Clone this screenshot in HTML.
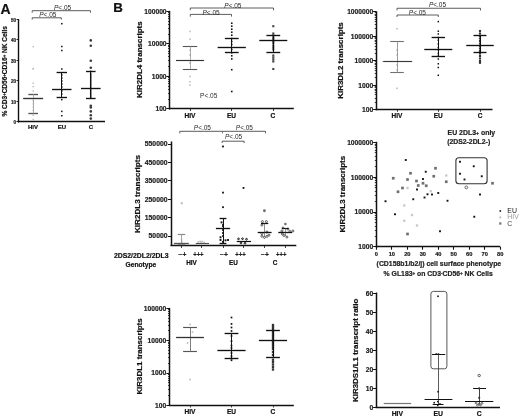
<!DOCTYPE html>
<html><head><meta charset="utf-8"><style>
html,body{margin:0;padding:0;background:#fff;}
svg{display:block;font-family:"Liberation Sans", sans-serif;will-change:transform;}
</style></head><body>
<svg width="520" height="417" viewBox="0 0 520 417">
<rect width="520" height="417" fill="#fff"/>
<text x="0.50" y="13.80" font-size="14.0" font-weight="bold" fill="#111" stroke="#111" stroke-width="0.2" text-anchor="start">A</text>
<line x1="18.50" y1="19.00" x2="18.50" y2="122.50" stroke="#111" stroke-width="1.4"/>
<line x1="17.80" y1="121.50" x2="105.00" y2="121.50" stroke="#111" stroke-width="1.4"/>
<line x1="16.50" y1="121.50" x2="18.50" y2="121.50" stroke="#111" stroke-width="0.9"/>
<text x="16.00" y="124.00" font-size="4.6" font-weight="bold" fill="#222" stroke="#222" stroke-width="0.2" text-anchor="end">0</text>
<line x1="16.50" y1="101.50" x2="18.50" y2="101.50" stroke="#111" stroke-width="0.9"/>
<text x="16.00" y="103.50" font-size="4.6" font-weight="bold" fill="#222" stroke="#222" stroke-width="0.2" text-anchor="end">10</text>
<line x1="16.50" y1="80.50" x2="18.50" y2="80.50" stroke="#111" stroke-width="0.9"/>
<text x="16.00" y="83.00" font-size="4.6" font-weight="bold" fill="#222" stroke="#222" stroke-width="0.2" text-anchor="end">20</text>
<line x1="16.50" y1="60.50" x2="18.50" y2="60.50" stroke="#111" stroke-width="0.9"/>
<text x="16.00" y="62.50" font-size="4.6" font-weight="bold" fill="#222" stroke="#222" stroke-width="0.2" text-anchor="end">30</text>
<line x1="16.50" y1="39.50" x2="18.50" y2="39.50" stroke="#111" stroke-width="0.9"/>
<text x="16.00" y="42.00" font-size="4.6" font-weight="bold" fill="#222" stroke="#222" stroke-width="0.2" text-anchor="end">40</text>
<line x1="16.50" y1="19.50" x2="18.50" y2="19.50" stroke="#111" stroke-width="0.9"/>
<text x="16.00" y="21.50" font-size="4.6" font-weight="bold" fill="#222" stroke="#222" stroke-width="0.2" text-anchor="end">50</text>
<text x="7.20" y="116.60" font-size="7.0" font-weight="bold" fill="#111" stroke="#111" stroke-width="0.2" text-anchor="start" transform="rotate(-90 7.20 116.60)" textLength="90.5" lengthAdjust="spacingAndGlyphs">% CD3<tspan dy="-1.6" font-size="4.5">+</tspan><tspan dy="1.6">CD56</tspan><tspan dy="-1.6" font-size="4.5">+</tspan><tspan dy="1.6">CD16</tspan><tspan dy="-1.6" font-size="4.5">+</tspan><tspan dy="1.6"> NK Cells</tspan></text>
<text x="33.00" y="128.80" font-size="6.0" font-weight="bold" fill="#111" stroke="#111" stroke-width="0.2" text-anchor="middle">HIV</text>
<text x="62.00" y="128.80" font-size="6.0" font-weight="bold" fill="#111" stroke="#111" stroke-width="0.2" text-anchor="middle">EU</text>
<text x="91.00" y="128.80" font-size="6.0" font-weight="bold" fill="#111" stroke="#111" stroke-width="0.2" text-anchor="middle">C</text>
<path d="M32.20 12.70 V10.70 H90.50 V12.70" fill="none" stroke="#4a4a4a" stroke-width="0.9"/>
<path d="M32.20 19.60 V17.80 H61.30 V19.60" fill="none" stroke="#4a4a4a" stroke-width="0.9"/>
<text x="54.00" y="10.10" font-size="6.5" font-weight="normal" fill="#2a2a2a" text-anchor="start"><tspan font-style="italic">P</tspan>&lt;.05</text>
<text x="39.20" y="16.80" font-size="6.5" font-weight="normal" fill="#2a2a2a" text-anchor="start"><tspan font-style="italic">P</tspan>&lt;.05</text>
<rect x="32.50" y="46.00" width="1.40" height="1.40" fill="#b8b8b8"/>
<rect x="32.50" y="68.30" width="1.40" height="1.40" fill="#b8b8b8"/>
<rect x="32.50" y="67.80" width="1.40" height="1.40" fill="#b8b8b8"/>
<rect x="32.50" y="82.50" width="1.40" height="1.40" fill="#b8b8b8"/>
<rect x="32.50" y="85.90" width="1.40" height="1.40" fill="#b8b8b8"/>
<rect x="32.50" y="90.30" width="1.40" height="1.40" fill="#b8b8b8"/>
<rect x="32.50" y="100.30" width="1.40" height="1.40" fill="#b8b8b8"/>
<rect x="32.50" y="103.30" width="1.40" height="1.40" fill="#b8b8b8"/>
<rect x="32.50" y="106.30" width="1.40" height="1.40" fill="#b8b8b8"/>
<rect x="32.50" y="109.30" width="1.40" height="1.40" fill="#b8b8b8"/>
<rect x="32.50" y="114.50" width="1.40" height="1.40" fill="#b8b8b8"/>
<rect x="32.50" y="118.80" width="1.40" height="1.40" fill="#b8b8b8"/>
<line x1="23.30" y1="98.50" x2="43.10" y2="98.50" stroke="#555" stroke-width="1.35"/>
<line x1="28.40" y1="94.50" x2="38.00" y2="94.50" stroke="#555" stroke-width="1.35"/>
<line x1="28.40" y1="113.50" x2="38.00" y2="113.50" stroke="#555" stroke-width="1.35"/>
<line x1="33.50" y1="94.40" x2="33.50" y2="113.40" stroke="#aaa" stroke-width="1.0125000000000002"/>
<line x1="23.30" y1="98.50" x2="43.10" y2="98.50" stroke="#333" stroke-width="1.1"/>
<rect x="61.05" y="22.95" width="1.50" height="1.50" fill="#111"/>
<rect x="61.05" y="45.75" width="1.50" height="1.50" fill="#111"/>
<rect x="61.05" y="49.75" width="1.50" height="1.50" fill="#111"/>
<rect x="61.05" y="68.25" width="1.50" height="1.50" fill="#111"/>
<rect x="61.05" y="74.25" width="1.50" height="1.50" fill="#111"/>
<rect x="61.05" y="77.25" width="1.50" height="1.50" fill="#111"/>
<rect x="61.05" y="80.25" width="1.50" height="1.50" fill="#111"/>
<rect x="61.05" y="83.25" width="1.50" height="1.50" fill="#111"/>
<rect x="61.05" y="86.25" width="1.50" height="1.50" fill="#111"/>
<rect x="61.05" y="90.25" width="1.50" height="1.50" fill="#111"/>
<rect x="61.05" y="93.25" width="1.50" height="1.50" fill="#111"/>
<rect x="61.05" y="98.85" width="1.50" height="1.50" fill="#111"/>
<rect x="61.05" y="110.65" width="1.50" height="1.50" fill="#111"/>
<rect x="61.05" y="114.95" width="1.50" height="1.50" fill="#111"/>
<line x1="52.10" y1="89.50" x2="71.50" y2="89.50" stroke="#111" stroke-width="1.35"/>
<line x1="56.60" y1="72.50" x2="67.00" y2="72.50" stroke="#111" stroke-width="1.35"/>
<line x1="56.60" y1="97.50" x2="67.00" y2="97.50" stroke="#111" stroke-width="1.35"/>
<line x1="61.50" y1="72.80" x2="61.50" y2="97.40" stroke="#111" stroke-width="1.0125000000000002"/>
<circle cx="90.80" cy="40.40" r="1.30" fill="#3a3a3a"/>
<circle cx="90.80" cy="45.80" r="1.30" fill="#3a3a3a"/>
<circle cx="90.80" cy="60.80" r="1.30" fill="#3a3a3a"/>
<circle cx="90.80" cy="67.80" r="1.30" fill="#3a3a3a"/>
<circle cx="90.80" cy="71.50" r="1.00" fill="#3a3a3a"/>
<circle cx="90.80" cy="74.00" r="1.00" fill="#3a3a3a"/>
<circle cx="90.80" cy="76.00" r="1.00" fill="#3a3a3a"/>
<circle cx="90.80" cy="78.00" r="1.00" fill="#3a3a3a"/>
<circle cx="90.80" cy="80.00" r="1.00" fill="#3a3a3a"/>
<circle cx="90.80" cy="82.00" r="1.00" fill="#3a3a3a"/>
<circle cx="90.80" cy="84.00" r="1.00" fill="#3a3a3a"/>
<circle cx="90.80" cy="86.00" r="1.00" fill="#3a3a3a"/>
<circle cx="90.80" cy="88.00" r="1.00" fill="#3a3a3a"/>
<circle cx="90.80" cy="90.00" r="1.00" fill="#3a3a3a"/>
<circle cx="90.80" cy="92.00" r="1.00" fill="#3a3a3a"/>
<circle cx="90.80" cy="94.00" r="1.00" fill="#3a3a3a"/>
<circle cx="90.80" cy="96.00" r="1.00" fill="#3a3a3a"/>
<circle cx="90.80" cy="98.00" r="1.00" fill="#3a3a3a"/>
<circle cx="90.80" cy="105.70" r="1.30" fill="#3a3a3a"/>
<circle cx="90.80" cy="107.40" r="1.30" fill="#3a3a3a"/>
<circle cx="90.80" cy="111.40" r="1.30" fill="#3a3a3a"/>
<circle cx="90.80" cy="115.20" r="1.30" fill="#3a3a3a"/>
<circle cx="90.80" cy="118.60" r="1.30" fill="#3a3a3a"/>
<line x1="81.00" y1="88.50" x2="100.60" y2="88.50" stroke="#111" stroke-width="1.35"/>
<line x1="86.00" y1="71.50" x2="95.60" y2="71.50" stroke="#111" stroke-width="1.35"/>
<line x1="86.00" y1="98.50" x2="95.60" y2="98.50" stroke="#111" stroke-width="1.35"/>
<line x1="90.50" y1="71.60" x2="90.50" y2="98.20" stroke="#111" stroke-width="1.0125000000000002"/>
<text x="113.30" y="12.20" font-size="13.3" font-weight="bold" fill="#111" stroke="#111" stroke-width="0.2" text-anchor="start">B</text>
<line x1="169.50" y1="10.85" x2="169.50" y2="109.50" stroke="#111" stroke-width="1.5"/>
<line x1="168.90" y1="108.50" x2="293.80" y2="108.50" stroke="#111" stroke-width="1.5"/>
<line x1="166.40" y1="11.50" x2="169.60" y2="11.50" stroke="#111" stroke-width="1.0"/>
<text x="166.60" y="13.65" font-size="6.7" font-weight="bold" fill="#222" stroke="#222" stroke-width="0.2" text-anchor="end">100000</text>
<line x1="168.00" y1="34.50" x2="169.60" y2="34.50" stroke="#111" stroke-width="0.8"/>
<line x1="168.00" y1="28.50" x2="169.60" y2="28.50" stroke="#111" stroke-width="0.8"/>
<line x1="168.00" y1="24.50" x2="169.60" y2="24.50" stroke="#111" stroke-width="0.8"/>
<line x1="168.00" y1="21.50" x2="169.60" y2="21.50" stroke="#111" stroke-width="0.8"/>
<line x1="168.00" y1="18.50" x2="169.60" y2="18.50" stroke="#111" stroke-width="0.8"/>
<line x1="168.00" y1="16.50" x2="169.60" y2="16.50" stroke="#111" stroke-width="0.8"/>
<line x1="168.00" y1="14.50" x2="169.60" y2="14.50" stroke="#111" stroke-width="0.8"/>
<line x1="168.00" y1="12.50" x2="169.60" y2="12.50" stroke="#111" stroke-width="0.8"/>
<line x1="166.40" y1="43.50" x2="169.60" y2="43.50" stroke="#111" stroke-width="1.0"/>
<text x="166.60" y="46.15" font-size="6.7" font-weight="bold" fill="#222" stroke="#222" stroke-width="0.2" text-anchor="end">10000</text>
<line x1="168.00" y1="66.50" x2="169.60" y2="66.50" stroke="#111" stroke-width="0.8"/>
<line x1="168.00" y1="60.50" x2="169.60" y2="60.50" stroke="#111" stroke-width="0.8"/>
<line x1="168.00" y1="56.50" x2="169.60" y2="56.50" stroke="#111" stroke-width="0.8"/>
<line x1="168.00" y1="53.50" x2="169.60" y2="53.50" stroke="#111" stroke-width="0.8"/>
<line x1="168.00" y1="51.50" x2="169.60" y2="51.50" stroke="#111" stroke-width="0.8"/>
<line x1="168.00" y1="48.50" x2="169.60" y2="48.50" stroke="#111" stroke-width="0.8"/>
<line x1="168.00" y1="46.50" x2="169.60" y2="46.50" stroke="#111" stroke-width="0.8"/>
<line x1="168.00" y1="45.50" x2="169.60" y2="45.50" stroke="#111" stroke-width="0.8"/>
<line x1="166.40" y1="76.50" x2="169.60" y2="76.50" stroke="#111" stroke-width="1.0"/>
<text x="166.60" y="78.65" font-size="6.7" font-weight="bold" fill="#222" stroke="#222" stroke-width="0.2" text-anchor="end">1000</text>
<line x1="168.00" y1="99.50" x2="169.60" y2="99.50" stroke="#111" stroke-width="0.8"/>
<line x1="168.00" y1="93.50" x2="169.60" y2="93.50" stroke="#111" stroke-width="0.8"/>
<line x1="168.00" y1="89.50" x2="169.60" y2="89.50" stroke="#111" stroke-width="0.8"/>
<line x1="168.00" y1="86.50" x2="169.60" y2="86.50" stroke="#111" stroke-width="0.8"/>
<line x1="168.00" y1="83.50" x2="169.60" y2="83.50" stroke="#111" stroke-width="0.8"/>
<line x1="168.00" y1="81.50" x2="169.60" y2="81.50" stroke="#111" stroke-width="0.8"/>
<line x1="168.00" y1="79.50" x2="169.60" y2="79.50" stroke="#111" stroke-width="0.8"/>
<line x1="168.00" y1="77.50" x2="169.60" y2="77.50" stroke="#111" stroke-width="0.8"/>
<line x1="166.40" y1="108.50" x2="169.60" y2="108.50" stroke="#111" stroke-width="1.0"/>
<text x="166.60" y="111.15" font-size="6.7" font-weight="bold" fill="#222" stroke="#222" stroke-width="0.2" text-anchor="end">100</text>
<text x="142.10" y="98.00" font-size="7.8" font-weight="bold" fill="#111" stroke="#111" stroke-width="0.2" text-anchor="start" transform="rotate(-90 142.10 98.00)" textLength="76.7" lengthAdjust="spacingAndGlyphs">KIR2DL4 transcripts</text>
<text x="190.00" y="117.80" font-size="6.6" font-weight="bold" fill="#111" stroke="#111" stroke-width="0.2" text-anchor="middle">HIV</text>
<line x1="190.50" y1="108.90" x2="190.50" y2="111.00" stroke="#111" stroke-width="0.8"/>
<text x="231.50" y="117.80" font-size="6.6" font-weight="bold" fill="#111" stroke="#111" stroke-width="0.2" text-anchor="middle">EU</text>
<line x1="231.50" y1="108.90" x2="231.50" y2="111.00" stroke="#111" stroke-width="0.8"/>
<text x="273.00" y="117.80" font-size="6.6" font-weight="bold" fill="#111" stroke="#111" stroke-width="0.2" text-anchor="middle">C</text>
<line x1="273.50" y1="108.90" x2="273.50" y2="111.00" stroke="#111" stroke-width="0.8"/>
<path d="M190.30 10.20 V8.00 H273.50 V10.20" fill="none" stroke="#4a4a4a" stroke-width="0.9"/>
<path d="M190.30 16.60 V14.40 H231.50 V16.60" fill="none" stroke="#4a4a4a" stroke-width="0.9"/>
<text x="224.30" y="7.80" font-size="6.5" font-weight="normal" fill="#2a2a2a" text-anchor="start"><tspan font-style="italic">P</tspan>&lt;.05</text>
<text x="202.50" y="14.70" font-size="6.5" font-weight="normal" fill="#2a2a2a" text-anchor="start"><tspan font-style="italic">P</tspan>&lt;.05</text>
<text x="200.10" y="97.90" font-size="6.5" font-weight="normal" fill="#2a2a2a" text-anchor="start">P&lt;.05</text>
<rect x="189.25" y="30.75" width="1.50" height="1.50" fill="#b8b8b8"/>
<rect x="189.25" y="38.45" width="1.50" height="1.50" fill="#b8b8b8"/>
<rect x="189.25" y="49.25" width="1.50" height="1.50" fill="#b8b8b8"/>
<rect x="189.25" y="54.25" width="1.50" height="1.50" fill="#b8b8b8"/>
<rect x="189.25" y="62.25" width="1.50" height="1.50" fill="#b8b8b8"/>
<rect x="189.25" y="75.75" width="1.50" height="1.50" fill="#b8b8b8"/>
<rect x="189.25" y="80.95" width="1.50" height="1.50" fill="#b8b8b8"/>
<rect x="189.25" y="84.35" width="1.50" height="1.50" fill="#b8b8b8"/>
<line x1="176.00" y1="60.50" x2="204.00" y2="60.50" stroke="#555" stroke-width="1.08"/>
<line x1="182.80" y1="46.50" x2="197.20" y2="46.50" stroke="#555" stroke-width="1.08"/>
<line x1="182.80" y1="69.50" x2="197.20" y2="69.50" stroke="#555" stroke-width="1.08"/>
<line x1="190.50" y1="46.30" x2="190.50" y2="69.30" stroke="#999" stroke-width="0.81"/>
<line x1="176.10" y1="60.50" x2="204.10" y2="60.50" stroke="#333" stroke-width="1.1"/>
<rect x="230.95" y="22.40" width="1.60" height="1.60" fill="#111"/>
<rect x="230.95" y="25.40" width="1.60" height="1.60" fill="#111"/>
<rect x="230.95" y="28.40" width="1.60" height="1.60" fill="#111"/>
<rect x="230.95" y="31.40" width="1.60" height="1.60" fill="#111"/>
<rect x="230.95" y="34.40" width="1.60" height="1.60" fill="#111"/>
<rect x="230.95" y="37.70" width="1.60" height="1.60" fill="#111"/>
<rect x="230.95" y="40.70" width="1.60" height="1.60" fill="#111"/>
<rect x="230.95" y="43.70" width="1.60" height="1.60" fill="#111"/>
<rect x="230.95" y="48.70" width="1.60" height="1.60" fill="#111"/>
<rect x="230.95" y="52.00" width="1.60" height="1.60" fill="#111"/>
<rect x="230.95" y="55.00" width="1.60" height="1.60" fill="#111"/>
<rect x="230.95" y="58.10" width="1.60" height="1.60" fill="#111"/>
<rect x="230.95" y="68.90" width="1.60" height="1.60" fill="#111"/>
<rect x="230.95" y="90.70" width="1.60" height="1.60" fill="#111"/>
<line x1="217.65" y1="47.50" x2="245.85" y2="47.50" stroke="#111" stroke-width="1.35"/>
<line x1="224.85" y1="38.50" x2="238.65" y2="38.50" stroke="#111" stroke-width="1.35"/>
<line x1="224.85" y1="52.50" x2="238.65" y2="52.50" stroke="#111" stroke-width="1.35"/>
<line x1="231.50" y1="38.25" x2="231.50" y2="52.00" stroke="#111" stroke-width="1.0125000000000002"/>
<rect x="272.25" y="25.15" width="2.10" height="2.10" fill="#444"/>
<rect x="272.25" y="32.45" width="2.10" height="2.10" fill="#444"/>
<rect x="272.25" y="34.45" width="2.10" height="2.10" fill="#444"/>
<rect x="272.25" y="36.45" width="2.10" height="2.10" fill="#444"/>
<rect x="272.25" y="37.95" width="2.10" height="2.10" fill="#444"/>
<rect x="272.25" y="39.95" width="2.10" height="2.10" fill="#444"/>
<rect x="272.25" y="41.95" width="2.10" height="2.10" fill="#444"/>
<rect x="272.25" y="44.45" width="2.10" height="2.10" fill="#444"/>
<rect x="272.25" y="46.45" width="2.10" height="2.10" fill="#444"/>
<rect x="272.25" y="48.45" width="2.10" height="2.10" fill="#444"/>
<rect x="272.25" y="54.45" width="2.10" height="2.10" fill="#444"/>
<rect x="272.25" y="56.45" width="2.10" height="2.10" fill="#444"/>
<rect x="272.25" y="58.45" width="2.10" height="2.10" fill="#444"/>
<rect x="272.25" y="60.45" width="2.10" height="2.10" fill="#444"/>
<rect x="272.25" y="67.95" width="2.10" height="2.10" fill="#444"/>
<line x1="259.30" y1="40.50" x2="287.30" y2="40.50" stroke="#111" stroke-width="1.35"/>
<line x1="266.40" y1="35.50" x2="280.20" y2="35.50" stroke="#111" stroke-width="1.35"/>
<line x1="266.40" y1="52.50" x2="280.20" y2="52.50" stroke="#111" stroke-width="1.35"/>
<line x1="273.50" y1="35.50" x2="273.50" y2="52.50" stroke="#111" stroke-width="1.0125000000000002"/>
<line x1="376.50" y1="11.30" x2="376.50" y2="110.30" stroke="#111" stroke-width="1.5"/>
<line x1="375.60" y1="109.50" x2="492.50" y2="109.50" stroke="#111" stroke-width="1.5"/>
<line x1="373.10" y1="11.50" x2="376.30" y2="11.50" stroke="#111" stroke-width="1.0"/>
<text x="373.20" y="14.10" font-size="6.7" font-weight="bold" fill="#222" stroke="#222" stroke-width="0.2" text-anchor="end">1000000</text>
<line x1="374.70" y1="28.50" x2="376.30" y2="28.50" stroke="#111" stroke-width="0.8"/>
<line x1="374.70" y1="24.50" x2="376.30" y2="24.50" stroke="#111" stroke-width="0.8"/>
<line x1="374.70" y1="21.50" x2="376.30" y2="21.50" stroke="#111" stroke-width="0.8"/>
<line x1="374.70" y1="19.50" x2="376.30" y2="19.50" stroke="#111" stroke-width="0.8"/>
<line x1="374.70" y1="17.50" x2="376.30" y2="17.50" stroke="#111" stroke-width="0.8"/>
<line x1="374.70" y1="15.50" x2="376.30" y2="15.50" stroke="#111" stroke-width="0.8"/>
<line x1="374.70" y1="14.50" x2="376.30" y2="14.50" stroke="#111" stroke-width="0.8"/>
<line x1="374.70" y1="12.50" x2="376.30" y2="12.50" stroke="#111" stroke-width="0.8"/>
<line x1="373.10" y1="36.50" x2="376.30" y2="36.50" stroke="#111" stroke-width="1.0"/>
<text x="373.20" y="38.57" font-size="6.7" font-weight="bold" fill="#222" stroke="#222" stroke-width="0.2" text-anchor="end">100000</text>
<line x1="374.70" y1="53.50" x2="376.30" y2="53.50" stroke="#111" stroke-width="0.8"/>
<line x1="374.70" y1="49.50" x2="376.30" y2="49.50" stroke="#111" stroke-width="0.8"/>
<line x1="374.70" y1="46.50" x2="376.30" y2="46.50" stroke="#111" stroke-width="0.8"/>
<line x1="374.70" y1="43.50" x2="376.30" y2="43.50" stroke="#111" stroke-width="0.8"/>
<line x1="374.70" y1="41.50" x2="376.30" y2="41.50" stroke="#111" stroke-width="0.8"/>
<line x1="374.70" y1="40.50" x2="376.30" y2="40.50" stroke="#111" stroke-width="0.8"/>
<line x1="374.70" y1="38.50" x2="376.30" y2="38.50" stroke="#111" stroke-width="0.8"/>
<line x1="374.70" y1="37.50" x2="376.30" y2="37.50" stroke="#111" stroke-width="0.8"/>
<line x1="373.10" y1="60.50" x2="376.30" y2="60.50" stroke="#111" stroke-width="1.0"/>
<text x="373.20" y="63.04" font-size="6.7" font-weight="bold" fill="#222" stroke="#222" stroke-width="0.2" text-anchor="end">10000</text>
<line x1="374.70" y1="77.50" x2="376.30" y2="77.50" stroke="#111" stroke-width="0.8"/>
<line x1="374.70" y1="73.50" x2="376.30" y2="73.50" stroke="#111" stroke-width="0.8"/>
<line x1="374.70" y1="70.50" x2="376.30" y2="70.50" stroke="#111" stroke-width="0.8"/>
<line x1="374.70" y1="68.50" x2="376.30" y2="68.50" stroke="#111" stroke-width="0.8"/>
<line x1="374.70" y1="66.50" x2="376.30" y2="66.50" stroke="#111" stroke-width="0.8"/>
<line x1="374.70" y1="64.50" x2="376.30" y2="64.50" stroke="#111" stroke-width="0.8"/>
<line x1="374.70" y1="63.50" x2="376.30" y2="63.50" stroke="#111" stroke-width="0.8"/>
<line x1="374.70" y1="61.50" x2="376.30" y2="61.50" stroke="#111" stroke-width="0.8"/>
<line x1="373.10" y1="85.50" x2="376.30" y2="85.50" stroke="#111" stroke-width="1.0"/>
<text x="373.20" y="87.51" font-size="6.7" font-weight="bold" fill="#222" stroke="#222" stroke-width="0.2" text-anchor="end">1000</text>
<line x1="374.70" y1="102.50" x2="376.30" y2="102.50" stroke="#111" stroke-width="0.8"/>
<line x1="374.70" y1="98.50" x2="376.30" y2="98.50" stroke="#111" stroke-width="0.8"/>
<line x1="374.70" y1="94.50" x2="376.30" y2="94.50" stroke="#111" stroke-width="0.8"/>
<line x1="374.70" y1="92.50" x2="376.30" y2="92.50" stroke="#111" stroke-width="0.8"/>
<line x1="374.70" y1="90.50" x2="376.30" y2="90.50" stroke="#111" stroke-width="0.8"/>
<line x1="374.70" y1="89.50" x2="376.30" y2="89.50" stroke="#111" stroke-width="0.8"/>
<line x1="374.70" y1="87.50" x2="376.30" y2="87.50" stroke="#111" stroke-width="0.8"/>
<line x1="374.70" y1="86.50" x2="376.30" y2="86.50" stroke="#111" stroke-width="0.8"/>
<line x1="373.10" y1="109.50" x2="376.30" y2="109.50" stroke="#111" stroke-width="1.0"/>
<text x="373.20" y="111.98" font-size="6.7" font-weight="bold" fill="#222" stroke="#222" stroke-width="0.2" text-anchor="end">100</text>
<text x="343.50" y="98.80" font-size="7.8" font-weight="bold" fill="#111" stroke="#111" stroke-width="0.2" text-anchor="start" transform="rotate(-90 343.50 98.80)" textLength="76.6" lengthAdjust="spacingAndGlyphs">KIR3DL2 transcripts</text>
<text x="397.00" y="117.90" font-size="6.5" font-weight="bold" fill="#111" stroke="#111" stroke-width="0.2" text-anchor="middle">HIV</text>
<line x1="397.50" y1="109.70" x2="397.50" y2="111.80" stroke="#111" stroke-width="0.8"/>
<text x="438.20" y="117.90" font-size="6.5" font-weight="bold" fill="#111" stroke="#111" stroke-width="0.2" text-anchor="middle">EU</text>
<line x1="438.50" y1="109.70" x2="438.50" y2="111.80" stroke="#111" stroke-width="0.8"/>
<text x="480.00" y="117.90" font-size="6.5" font-weight="bold" fill="#111" stroke="#111" stroke-width="0.2" text-anchor="middle">C</text>
<line x1="480.50" y1="109.70" x2="480.50" y2="111.80" stroke="#111" stroke-width="0.8"/>
<path d="M397.00 10.45 V8.25 H480.50 V10.45" fill="none" stroke="#4a4a4a" stroke-width="0.9"/>
<path d="M397.00 17.00 V15.00 H438.30 V17.00" fill="none" stroke="#4a4a4a" stroke-width="0.9"/>
<text x="428.90" y="6.90" font-size="6.5" font-weight="normal" fill="#2a2a2a" text-anchor="start"><tspan font-style="italic">P</tspan>&lt;.05</text>
<text x="408.80" y="14.60" font-size="6.5" font-weight="normal" fill="#2a2a2a" text-anchor="start"><tspan font-style="italic">P</tspan>&lt;.05</text>
<rect x="396.25" y="27.95" width="1.50" height="1.50" fill="#b8b8b8"/>
<rect x="396.25" y="49.25" width="1.50" height="1.50" fill="#b8b8b8"/>
<rect x="396.25" y="54.25" width="1.50" height="1.50" fill="#b8b8b8"/>
<rect x="396.25" y="64.25" width="1.50" height="1.50" fill="#b8b8b8"/>
<rect x="396.25" y="69.25" width="1.50" height="1.50" fill="#b8b8b8"/>
<rect x="396.25" y="87.55" width="1.50" height="1.50" fill="#b8b8b8"/>
<line x1="382.60" y1="61.50" x2="411.40" y2="61.50" stroke="#707070" stroke-width="1.08"/>
<line x1="390.20" y1="41.50" x2="403.80" y2="41.50" stroke="#707070" stroke-width="1.08"/>
<line x1="390.20" y1="72.50" x2="403.80" y2="72.50" stroke="#707070" stroke-width="1.08"/>
<line x1="397.50" y1="41.20" x2="397.50" y2="72.90" stroke="#8a8a8a" stroke-width="0.81"/>
<line x1="383.40" y1="61.50" x2="412.20" y2="61.50" stroke="#3a3a3a" stroke-width="1.1"/>
<rect x="437.55" y="20.85" width="1.50" height="1.50" fill="#111"/>
<rect x="437.55" y="30.45" width="1.50" height="1.50" fill="#111"/>
<rect x="437.55" y="33.25" width="1.50" height="1.50" fill="#111"/>
<rect x="437.55" y="36.75" width="1.50" height="1.50" fill="#111"/>
<rect x="437.55" y="39.45" width="1.50" height="1.50" fill="#111"/>
<rect x="437.55" y="43.25" width="1.50" height="1.50" fill="#111"/>
<rect x="437.55" y="46.75" width="1.50" height="1.50" fill="#111"/>
<rect x="437.55" y="49.25" width="1.50" height="1.50" fill="#111"/>
<rect x="437.55" y="52.75" width="1.50" height="1.50" fill="#111"/>
<rect x="437.55" y="55.25" width="1.50" height="1.50" fill="#111"/>
<rect x="437.55" y="58.25" width="1.50" height="1.50" fill="#111"/>
<rect x="437.55" y="63.05" width="1.50" height="1.50" fill="#111"/>
<rect x="437.55" y="66.75" width="1.50" height="1.50" fill="#111"/>
<rect x="437.55" y="74.55" width="1.50" height="1.50" fill="#111"/>
<line x1="424.30" y1="49.50" x2="452.30" y2="49.50" stroke="#111" stroke-width="1.35"/>
<line x1="431.60" y1="37.50" x2="445.00" y2="37.50" stroke="#111" stroke-width="1.35"/>
<line x1="431.60" y1="56.50" x2="445.00" y2="56.50" stroke="#111" stroke-width="1.35"/>
<line x1="438.50" y1="37.50" x2="438.50" y2="56.25" stroke="#111" stroke-width="1.0125000000000002"/>
<rect x="478.95" y="29.95" width="2.10" height="2.10" fill="#333"/>
<rect x="478.95" y="32.45" width="2.10" height="2.10" fill="#333"/>
<rect x="478.95" y="34.95" width="2.10" height="2.10" fill="#333"/>
<rect x="478.95" y="37.45" width="2.10" height="2.10" fill="#333"/>
<rect x="478.95" y="39.95" width="2.10" height="2.10" fill="#333"/>
<rect x="478.95" y="42.45" width="2.10" height="2.10" fill="#333"/>
<rect x="478.95" y="44.95" width="2.10" height="2.10" fill="#333"/>
<rect x="478.95" y="47.45" width="2.10" height="2.10" fill="#333"/>
<rect x="478.95" y="49.95" width="2.10" height="2.10" fill="#333"/>
<rect x="478.95" y="52.45" width="2.10" height="2.10" fill="#333"/>
<rect x="478.95" y="54.95" width="2.10" height="2.10" fill="#333"/>
<rect x="478.95" y="57.45" width="2.10" height="2.10" fill="#333"/>
<rect x="478.95" y="59.95" width="2.10" height="2.10" fill="#333"/>
<rect x="478.95" y="61.75" width="2.10" height="2.10" fill="#333"/>
<line x1="466.25" y1="45.50" x2="493.75" y2="45.50" stroke="#111" stroke-width="1.35"/>
<line x1="473.50" y1="35.50" x2="486.50" y2="35.50" stroke="#111" stroke-width="1.35"/>
<line x1="473.50" y1="52.50" x2="486.50" y2="52.50" stroke="#111" stroke-width="1.35"/>
<line x1="480.50" y1="35.50" x2="480.50" y2="52.00" stroke="#111" stroke-width="1.0125000000000002"/>
<line x1="171.50" y1="141.50" x2="171.50" y2="245.80" stroke="#111" stroke-width="1.5"/>
<line x1="170.50" y1="245.50" x2="296.30" y2="245.50" stroke="#111" stroke-width="1.5"/>
<line x1="168.00" y1="144.50" x2="171.20" y2="144.50" stroke="#111" stroke-width="1.0"/>
<text x="167.50" y="146.41" font-size="6.8" font-weight="bold" fill="#222" stroke="#222" stroke-width="0.2" text-anchor="end">550000</text>
<line x1="168.00" y1="162.50" x2="171.20" y2="162.50" stroke="#111" stroke-width="1.0"/>
<text x="167.50" y="164.79" font-size="6.8" font-weight="bold" fill="#222" stroke="#222" stroke-width="0.2" text-anchor="end">450000</text>
<line x1="168.00" y1="180.50" x2="171.20" y2="180.50" stroke="#111" stroke-width="1.0"/>
<text x="167.50" y="183.17" font-size="6.8" font-weight="bold" fill="#222" stroke="#222" stroke-width="0.2" text-anchor="end">350000</text>
<line x1="168.00" y1="199.50" x2="171.20" y2="199.50" stroke="#111" stroke-width="1.0"/>
<text x="167.50" y="201.55" font-size="6.8" font-weight="bold" fill="#222" stroke="#222" stroke-width="0.2" text-anchor="end">250000</text>
<line x1="168.00" y1="217.50" x2="171.20" y2="217.50" stroke="#111" stroke-width="1.0"/>
<text x="167.50" y="219.93" font-size="6.8" font-weight="bold" fill="#222" stroke="#222" stroke-width="0.2" text-anchor="end">150000</text>
<line x1="168.00" y1="236.50" x2="171.20" y2="236.50" stroke="#111" stroke-width="1.0"/>
<text x="167.50" y="238.31" font-size="6.8" font-weight="bold" fill="#222" stroke="#222" stroke-width="0.2" text-anchor="end">50000</text>
<text x="140.30" y="233.00" font-size="7.9" font-weight="bold" fill="#111" stroke="#111" stroke-width="0.2" text-anchor="start" transform="rotate(-90 140.30 233.00)" textLength="78" lengthAdjust="spacingAndGlyphs">KIR2DL3 transcripts</text>
<line x1="181.50" y1="245.10" x2="181.50" y2="248.00" stroke="#111" stroke-width="0.8"/>
<line x1="201.50" y1="245.10" x2="201.50" y2="248.00" stroke="#111" stroke-width="0.8"/>
<line x1="223.50" y1="245.10" x2="223.50" y2="248.00" stroke="#111" stroke-width="0.8"/>
<line x1="243.50" y1="245.10" x2="243.50" y2="248.00" stroke="#111" stroke-width="0.8"/>
<line x1="264.50" y1="245.10" x2="264.50" y2="248.00" stroke="#111" stroke-width="0.8"/>
<line x1="285.50" y1="245.10" x2="285.50" y2="248.00" stroke="#111" stroke-width="0.8"/>
<text x="178.60" y="256.60" font-size="6.6" font-weight="bold" fill="#222" stroke="#222" stroke-width="0.2" text-anchor="start" textLength="7.8" lengthAdjust="spacingAndGlyphs">−+</text>
<text x="220.10" y="256.60" font-size="6.6" font-weight="bold" fill="#222" stroke="#222" stroke-width="0.2" text-anchor="start" textLength="7.8" lengthAdjust="spacingAndGlyphs">−+</text>
<text x="261.10" y="256.60" font-size="6.6" font-weight="bold" fill="#222" stroke="#222" stroke-width="0.2" text-anchor="start" textLength="7.8" lengthAdjust="spacingAndGlyphs">−+</text>
<text x="193.20" y="256.60" font-size="6.8" font-weight="bold" fill="#222" stroke="#222" stroke-width="0.2" text-anchor="start" textLength="10.4" lengthAdjust="spacingAndGlyphs">+++</text>
<text x="235.30" y="256.60" font-size="6.8" font-weight="bold" fill="#222" stroke="#222" stroke-width="0.2" text-anchor="start" textLength="10.4" lengthAdjust="spacingAndGlyphs">+++</text>
<text x="276.10" y="256.60" font-size="6.8" font-weight="bold" fill="#222" stroke="#222" stroke-width="0.2" text-anchor="start" textLength="10.4" lengthAdjust="spacingAndGlyphs">+++</text>
<text x="113.90" y="258.40" font-size="6.95" font-weight="bold" fill="#111" stroke="#111" stroke-width="0.2" text-anchor="start" textLength="54.6" lengthAdjust="spacingAndGlyphs">2DS2/2DL2/2DL3</text>
<text x="125.50" y="266.90" font-size="6.95" font-weight="bold" fill="#111" stroke="#111" stroke-width="0.2" text-anchor="start" textLength="30.8" lengthAdjust="spacingAndGlyphs">Genotype</text>
<text x="191.50" y="265.20" font-size="6.4" font-weight="bold" fill="#111" stroke="#111" stroke-width="0.2" text-anchor="middle">HIV</text>
<text x="233.50" y="265.20" font-size="6.4" font-weight="bold" fill="#111" stroke="#111" stroke-width="0.2" text-anchor="middle">EU</text>
<text x="275.00" y="265.20" font-size="6.4" font-weight="bold" fill="#111" stroke="#111" stroke-width="0.2" text-anchor="middle">C</text>
<path d="M179.80 133.30 V131.30 H265.50 V133.30" fill="none" stroke="#4a4a4a" stroke-width="0.9"/>
<line x1="222.50" y1="131.30" x2="222.50" y2="133.30" stroke="#555" stroke-width="0.8"/>
<path d="M222.20 143.00 V141.20 H244.10 V143.00" fill="none" stroke="#4a4a4a" stroke-width="0.9"/>
<text x="193.80" y="129.60" font-size="6.5" font-weight="normal" fill="#2a2a2a" text-anchor="start"><tspan font-style="italic">P</tspan>&lt;.05</text>
<text x="235.80" y="129.60" font-size="6.5" font-weight="normal" fill="#2a2a2a" text-anchor="start"><tspan font-style="italic">P</tspan>&lt;.05</text>
<text x="225.00" y="138.60" font-size="6.5" font-weight="normal" fill="#2a2a2a" text-anchor="start"><tspan font-style="italic">P</tspan>&lt;.05</text>
<rect x="180.75" y="202.25" width="2.00" height="2.00" fill="#b8b8b8"/>
<rect x="181.05" y="239.30" width="1.40" height="1.40" fill="#b8b8b8"/>
<rect x="181.05" y="241.30" width="1.40" height="1.40" fill="#b8b8b8"/>
<rect x="181.05" y="242.30" width="1.40" height="1.40" fill="#b8b8b8"/>
<rect x="181.05" y="243.30" width="1.40" height="1.40" fill="#b8b8b8"/>
<line x1="174.20" y1="243.50" x2="188.80" y2="243.50" stroke="#888" stroke-width="1.215"/>
<line x1="177.80" y1="234.50" x2="185.20" y2="234.50" stroke="#888" stroke-width="1.215"/>
<line x1="177.80" y1="244.50" x2="185.20" y2="244.50" stroke="#888" stroke-width="1.215"/>
<line x1="181.50" y1="234.10" x2="181.50" y2="244.50" stroke="#999" stroke-width="0.9112500000000001"/>
<line x1="173.90" y1="243.50" x2="188.60" y2="243.50" stroke="#555" stroke-width="1.2"/>
<rect x="197.45" y="241.20" width="1.60" height="1.60" fill="#b8b8b8"/>
<rect x="199.45" y="240.70" width="1.60" height="1.60" fill="#b8b8b8"/>
<rect x="201.45" y="240.70" width="1.60" height="1.60" fill="#b8b8b8"/>
<rect x="203.45" y="241.70" width="1.60" height="1.60" fill="#b8b8b8"/>
<rect x="200.45" y="242.20" width="1.60" height="1.60" fill="#b8b8b8"/>
<line x1="195.70" y1="243.50" x2="209.00" y2="243.50" stroke="#555" stroke-width="1.1"/>
<rect x="222.10" y="145.60" width="1.80" height="1.80" fill="#111"/>
<rect x="222.10" y="191.70" width="1.80" height="1.80" fill="#111"/>
<rect x="222.10" y="206.30" width="1.80" height="1.80" fill="#111"/>
<rect x="222.10" y="223.90" width="1.80" height="1.80" fill="#111"/>
<rect x="222.10" y="225.40" width="1.80" height="1.80" fill="#111"/>
<rect x="222.10" y="229.10" width="1.80" height="1.80" fill="#111"/>
<rect x="222.10" y="232.10" width="1.80" height="1.80" fill="#111"/>
<rect x="222.10" y="235.10" width="1.80" height="1.80" fill="#111"/>
<rect x="220.55" y="221.45" width="1.90" height="1.90" fill="#111"/>
<rect x="219.55" y="236.35" width="1.90" height="1.90" fill="#111"/>
<rect x="219.55" y="239.05" width="1.90" height="1.90" fill="#111"/>
<rect x="222.05" y="240.85" width="1.90" height="1.90" fill="#111"/>
<rect x="224.55" y="239.35" width="1.90" height="1.90" fill="#111"/>
<rect x="227.05" y="239.05" width="1.90" height="1.90" fill="#111"/>
<line x1="215.90" y1="228.50" x2="230.10" y2="228.50" stroke="#111" stroke-width="1.35"/>
<line x1="219.60" y1="218.50" x2="226.40" y2="218.50" stroke="#111" stroke-width="1.35"/>
<line x1="219.60" y1="243.50" x2="226.40" y2="243.50" stroke="#111" stroke-width="1.35"/>
<line x1="223.50" y1="218.25" x2="223.50" y2="243.50" stroke="#111" stroke-width="1.0125000000000002"/>
<rect x="242.60" y="187.00" width="1.80" height="1.80" fill="#111"/>
<circle cx="238.50" cy="238.90" r="0.85" fill="none" stroke="#111" stroke-width="1.0"/>
<circle cx="242.50" cy="238.70" r="0.85" fill="none" stroke="#111" stroke-width="1.0"/>
<circle cx="246.50" cy="239.20" r="0.85" fill="none" stroke="#111" stroke-width="1.0"/>
<circle cx="241.00" cy="243.00" r="0.85" fill="none" stroke="#111" stroke-width="1.0"/>
<circle cx="245.00" cy="243.20" r="0.85" fill="none" stroke="#111" stroke-width="1.0"/>
<line x1="236.70" y1="241.50" x2="251.00" y2="241.50" stroke="#111" stroke-width="1.2"/>
<circle cx="264.40" cy="210.70" r="1.45" fill="#707070"/>
<circle cx="262.40" cy="221.60" r="1.00" fill="none" stroke="#555" stroke-width="1.0"/>
<circle cx="266.40" cy="221.60" r="1.00" fill="none" stroke="#555" stroke-width="1.0"/>
<circle cx="261.90" cy="225.00" r="1.00" fill="none" stroke="#555" stroke-width="1.0"/>
<circle cx="261.90" cy="233.50" r="1.00" fill="none" stroke="#555" stroke-width="1.0"/>
<circle cx="266.90" cy="232.00" r="1.00" fill="none" stroke="#555" stroke-width="1.0"/>
<circle cx="261.90" cy="236.20" r="1.00" fill="none" stroke="#555" stroke-width="1.0"/>
<circle cx="264.40" cy="237.40" r="1.00" fill="none" stroke="#555" stroke-width="1.0"/>
<circle cx="266.90" cy="236.40" r="1.00" fill="none" stroke="#555" stroke-width="1.0"/>
<circle cx="268.90" cy="235.20" r="1.00" fill="none" stroke="#555" stroke-width="1.0"/>
<line x1="257.70" y1="232.50" x2="271.60" y2="232.50" stroke="#111" stroke-width="1.3"/>
<line x1="261.00" y1="223.50" x2="268.30" y2="223.50" stroke="#111" stroke-width="1.2"/>
<line x1="264.50" y1="223.30" x2="264.50" y2="236.50" stroke="#444" stroke-width="0.6"/>
<circle cx="285.40" cy="224.00" r="1.30" fill="#707070"/>
<circle cx="283.00" cy="228.00" r="1.00" fill="none" stroke="#555" stroke-width="1.0"/>
<circle cx="288.00" cy="229.00" r="1.00" fill="none" stroke="#555" stroke-width="1.0"/>
<circle cx="281.90" cy="231.00" r="1.00" fill="none" stroke="#555" stroke-width="1.0"/>
<circle cx="289.90" cy="231.50" r="1.00" fill="none" stroke="#555" stroke-width="1.0"/>
<circle cx="292.90" cy="231.00" r="1.00" fill="none" stroke="#555" stroke-width="1.0"/>
<circle cx="283.90" cy="235.50" r="1.00" fill="none" stroke="#555" stroke-width="1.0"/>
<circle cx="286.90" cy="237.00" r="1.00" fill="none" stroke="#555" stroke-width="1.0"/>
<circle cx="282.40" cy="234.00" r="1.00" fill="none" stroke="#555" stroke-width="1.0"/>
<line x1="278.30" y1="232.50" x2="292.10" y2="232.50" stroke="#111" stroke-width="1.3"/>
<line x1="282.00" y1="228.50" x2="288.60" y2="228.50" stroke="#111" stroke-width="1.1"/>
<line x1="285.50" y1="228.00" x2="285.50" y2="236.00" stroke="#444" stroke-width="0.6"/>
<line x1="376.50" y1="141.80" x2="376.50" y2="247.60" stroke="#111" stroke-width="1.5"/>
<line x1="375.70" y1="246.50" x2="500.30" y2="246.50" stroke="#111" stroke-width="1.5"/>
<line x1="373.20" y1="142.50" x2="376.40" y2="142.50" stroke="#111" stroke-width="1.0"/>
<text x="373.20" y="144.80" font-size="6.7" font-weight="bold" fill="#222" stroke="#222" stroke-width="0.2" text-anchor="end">1000000</text>
<line x1="374.80" y1="166.50" x2="376.40" y2="166.50" stroke="#111" stroke-width="0.8"/>
<line x1="374.80" y1="160.50" x2="376.40" y2="160.50" stroke="#111" stroke-width="0.8"/>
<line x1="374.80" y1="156.50" x2="376.40" y2="156.50" stroke="#111" stroke-width="0.8"/>
<line x1="374.80" y1="152.50" x2="376.40" y2="152.50" stroke="#111" stroke-width="0.8"/>
<line x1="374.80" y1="150.50" x2="376.40" y2="150.50" stroke="#111" stroke-width="0.8"/>
<line x1="374.80" y1="147.50" x2="376.40" y2="147.50" stroke="#111" stroke-width="0.8"/>
<line x1="374.80" y1="145.50" x2="376.40" y2="145.50" stroke="#111" stroke-width="0.8"/>
<line x1="374.80" y1="144.50" x2="376.40" y2="144.50" stroke="#111" stroke-width="0.8"/>
<line x1="373.20" y1="177.50" x2="376.40" y2="177.50" stroke="#111" stroke-width="1.0"/>
<text x="373.20" y="179.63" font-size="6.7" font-weight="bold" fill="#222" stroke="#222" stroke-width="0.2" text-anchor="end">100000</text>
<line x1="374.80" y1="201.50" x2="376.40" y2="201.50" stroke="#111" stroke-width="0.8"/>
<line x1="374.80" y1="195.50" x2="376.40" y2="195.50" stroke="#111" stroke-width="0.8"/>
<line x1="374.80" y1="191.50" x2="376.40" y2="191.50" stroke="#111" stroke-width="0.8"/>
<line x1="374.80" y1="187.50" x2="376.40" y2="187.50" stroke="#111" stroke-width="0.8"/>
<line x1="374.80" y1="185.50" x2="376.40" y2="185.50" stroke="#111" stroke-width="0.8"/>
<line x1="374.80" y1="182.50" x2="376.40" y2="182.50" stroke="#111" stroke-width="0.8"/>
<line x1="374.80" y1="180.50" x2="376.40" y2="180.50" stroke="#111" stroke-width="0.8"/>
<line x1="374.80" y1="178.50" x2="376.40" y2="178.50" stroke="#111" stroke-width="0.8"/>
<line x1="373.20" y1="212.50" x2="376.40" y2="212.50" stroke="#111" stroke-width="1.0"/>
<text x="373.20" y="214.46" font-size="6.7" font-weight="bold" fill="#222" stroke="#222" stroke-width="0.2" text-anchor="end">10000</text>
<line x1="374.80" y1="236.50" x2="376.40" y2="236.50" stroke="#111" stroke-width="0.8"/>
<line x1="374.80" y1="230.50" x2="376.40" y2="230.50" stroke="#111" stroke-width="0.8"/>
<line x1="374.80" y1="226.50" x2="376.40" y2="226.50" stroke="#111" stroke-width="0.8"/>
<line x1="374.80" y1="222.50" x2="376.40" y2="222.50" stroke="#111" stroke-width="0.8"/>
<line x1="374.80" y1="219.50" x2="376.40" y2="219.50" stroke="#111" stroke-width="0.8"/>
<line x1="374.80" y1="217.50" x2="376.40" y2="217.50" stroke="#111" stroke-width="0.8"/>
<line x1="374.80" y1="215.50" x2="376.40" y2="215.50" stroke="#111" stroke-width="0.8"/>
<line x1="374.80" y1="213.50" x2="376.40" y2="213.50" stroke="#111" stroke-width="0.8"/>
<line x1="373.20" y1="246.50" x2="376.40" y2="246.50" stroke="#111" stroke-width="1.0"/>
<text x="373.20" y="249.29" font-size="6.7" font-weight="bold" fill="#222" stroke="#222" stroke-width="0.2" text-anchor="end">1000</text>
<line x1="376.50" y1="246.90" x2="376.50" y2="249.70" stroke="#111" stroke-width="1.1"/>
<text x="376.40" y="255.80" font-size="5.7" font-weight="bold" fill="#222" stroke="#222" stroke-width="0.2" text-anchor="middle">0</text>
<line x1="391.50" y1="246.90" x2="391.50" y2="249.70" stroke="#111" stroke-width="1.1"/>
<text x="391.88" y="255.80" font-size="5.7" font-weight="bold" fill="#222" stroke="#222" stroke-width="0.2" text-anchor="middle">10</text>
<line x1="407.50" y1="246.90" x2="407.50" y2="249.70" stroke="#111" stroke-width="1.1"/>
<text x="407.35" y="255.80" font-size="5.7" font-weight="bold" fill="#222" stroke="#222" stroke-width="0.2" text-anchor="middle">20</text>
<line x1="422.50" y1="246.90" x2="422.50" y2="249.70" stroke="#111" stroke-width="1.1"/>
<text x="422.82" y="255.80" font-size="5.7" font-weight="bold" fill="#222" stroke="#222" stroke-width="0.2" text-anchor="middle">30</text>
<line x1="438.50" y1="246.90" x2="438.50" y2="249.70" stroke="#111" stroke-width="1.1"/>
<text x="438.30" y="255.80" font-size="5.7" font-weight="bold" fill="#222" stroke="#222" stroke-width="0.2" text-anchor="middle">40</text>
<line x1="453.50" y1="246.90" x2="453.50" y2="249.70" stroke="#111" stroke-width="1.1"/>
<text x="453.77" y="255.80" font-size="5.7" font-weight="bold" fill="#222" stroke="#222" stroke-width="0.2" text-anchor="middle">50</text>
<line x1="469.50" y1="246.90" x2="469.50" y2="249.70" stroke="#111" stroke-width="1.1"/>
<text x="469.25" y="255.80" font-size="5.7" font-weight="bold" fill="#222" stroke="#222" stroke-width="0.2" text-anchor="middle">60</text>
<line x1="484.50" y1="246.90" x2="484.50" y2="249.70" stroke="#111" stroke-width="1.1"/>
<text x="484.72" y="255.80" font-size="5.7" font-weight="bold" fill="#222" stroke="#222" stroke-width="0.2" text-anchor="middle">70</text>
<line x1="500.50" y1="246.90" x2="500.50" y2="249.70" stroke="#111" stroke-width="1.1"/>
<text x="500.20" y="255.80" font-size="5.7" font-weight="bold" fill="#222" stroke="#222" stroke-width="0.2" text-anchor="middle">80</text>
<text x="345.50" y="232.60" font-size="7.9" font-weight="bold" fill="#111" stroke="#111" stroke-width="0.2" text-anchor="start" transform="rotate(-90 345.50 232.60)" textLength="76.7" lengthAdjust="spacingAndGlyphs">KIR2DL3 transcripts</text>
<text x="376.60" y="266.30" font-size="6.9" font-weight="bold" fill="#222" stroke="#222" stroke-width="0.2" text-anchor="start" textLength="124.6" lengthAdjust="spacingAndGlyphs">(CD158b1/b2/j) cell surface phenotype</text>
<text x="383.60" y="276.20" font-size="6.9" font-weight="bold" fill="#222" stroke="#222" stroke-width="0.2" text-anchor="start" textLength="109.2" lengthAdjust="spacingAndGlyphs">% GL183<tspan dy="-1.6" font-size="4.5">+</tspan><tspan dy="1.6"> on CD3</tspan><tspan dy="-1.6" font-size="4.5">-</tspan><tspan dy="1.6">CD56</tspan><tspan dy="-1.6" font-size="4.5">+</tspan><tspan dy="1.6"> NK Cells</tspan></text>
<text x="447.60" y="135.30" font-size="6.8" font-weight="bold" fill="#222" stroke="#222" stroke-width="0.2" text-anchor="start" textLength="47.6" lengthAdjust="spacingAndGlyphs">EU 2DL3<tspan font-size="5.2" dy="-0.6">+</tspan><tspan dy="0.6"> only</tspan></text>
<text x="447.20" y="144.00" font-size="6.85" font-weight="bold" fill="#222" stroke="#222" stroke-width="0.2" text-anchor="start">(2DS2-2DL2-)</text>
<rect x="455.9" y="157.8" width="31.2" height="25.9" rx="3" fill="none" stroke="#333" stroke-width="1.1"/>
<rect x="384.55" y="200.30" width="1.90" height="1.90" fill="#111"/>
<rect x="394.05" y="213.30" width="1.90" height="1.90" fill="#111"/>
<rect x="404.80" y="159.05" width="1.90" height="1.90" fill="#111"/>
<rect x="412.30" y="198.30" width="1.90" height="1.90" fill="#111"/>
<rect x="416.05" y="188.55" width="1.90" height="1.90" fill="#111"/>
<rect x="422.05" y="178.05" width="1.90" height="1.90" fill="#111"/>
<rect x="423.55" y="196.55" width="1.90" height="1.90" fill="#111"/>
<rect x="424.80" y="170.80" width="1.90" height="1.90" fill="#111"/>
<rect x="426.55" y="193.30" width="1.90" height="1.90" fill="#111"/>
<rect x="431.05" y="193.55" width="1.90" height="1.90" fill="#111"/>
<rect x="437.30" y="192.05" width="1.90" height="1.90" fill="#111"/>
<rect x="439.05" y="230.30" width="1.90" height="1.90" fill="#111"/>
<rect x="446.55" y="199.80" width="1.90" height="1.90" fill="#111"/>
<rect x="459.05" y="160.80" width="1.90" height="1.90" fill="#111"/>
<rect x="472.80" y="165.30" width="1.90" height="1.90" fill="#111"/>
<rect x="459.05" y="172.80" width="1.90" height="1.90" fill="#111"/>
<rect x="480.80" y="175.30" width="1.90" height="1.90" fill="#111"/>
<rect x="463.55" y="178.55" width="1.90" height="1.90" fill="#111"/>
<rect x="479.05" y="193.55" width="1.90" height="1.90" fill="#111"/>
<rect x="473.30" y="215.80" width="1.90" height="1.90" fill="#111"/>
<rect x="391.90" y="176.90" width="2.70" height="2.70" fill="#707070"/>
<rect x="396.65" y="190.40" width="2.70" height="2.70" fill="#707070"/>
<rect x="401.15" y="186.65" width="2.70" height="2.70" fill="#707070"/>
<rect x="406.15" y="178.15" width="2.70" height="2.70" fill="#707070"/>
<rect x="409.15" y="171.90" width="2.70" height="2.70" fill="#707070"/>
<rect x="415.15" y="179.65" width="2.70" height="2.70" fill="#707070"/>
<rect x="416.90" y="184.15" width="2.70" height="2.70" fill="#707070"/>
<rect x="421.65" y="181.90" width="2.70" height="2.70" fill="#707070"/>
<rect x="424.90" y="184.40" width="2.70" height="2.70" fill="#707070"/>
<rect x="432.40" y="174.90" width="2.70" height="2.70" fill="#707070"/>
<rect x="434.15" y="166.90" width="2.70" height="2.70" fill="#707070"/>
<rect x="444.90" y="180.40" width="2.70" height="2.70" fill="#707070"/>
<rect x="491.15" y="181.90" width="2.70" height="2.70" fill="#707070"/>
<rect x="406.15" y="232.65" width="2.70" height="2.70" fill="#707070"/>
<rect x="403.10" y="204.35" width="2.30" height="2.30" fill="#c8c8c8"/>
<rect x="403.10" y="219.60" width="2.30" height="2.30" fill="#c8c8c8"/>
<rect x="406.35" y="186.85" width="2.30" height="2.30" fill="#c8c8c8"/>
<rect x="410.85" y="213.85" width="2.30" height="2.30" fill="#c8c8c8"/>
<rect x="415.85" y="224.35" width="2.30" height="2.30" fill="#c8c8c8"/>
<rect x="429.60" y="190.10" width="2.30" height="2.30" fill="#c8c8c8"/>
<rect x="445.10" y="174.35" width="2.30" height="2.30" fill="#c8c8c8"/>
<circle cx="466.3" cy="187.4" r="1.4" fill="none" stroke="#666" stroke-width="1.0"/>
<rect x="499.50" y="210.20" width="1.60" height="1.60" fill="#111"/>
<rect x="499.30" y="216.40" width="2.00" height="2.00" fill="#c4c4c4"/>
<rect x="499.15" y="222.35" width="2.30" height="2.30" fill="#777"/>
<text x="507.30" y="213.10" font-size="6.9" font-weight="normal" fill="#111" text-anchor="start">EU</text>
<text x="507.30" y="219.00" font-size="6.9" font-weight="normal" fill="#999" text-anchor="start">HIV</text>
<text x="507.30" y="225.80" font-size="6.9" font-weight="normal" fill="#444" text-anchor="start">C</text>
<line x1="169.50" y1="307.90" x2="169.50" y2="406.00" stroke="#111" stroke-width="1.5"/>
<line x1="168.90" y1="405.50" x2="293.80" y2="405.50" stroke="#111" stroke-width="1.5"/>
<line x1="166.40" y1="308.50" x2="169.60" y2="308.50" stroke="#111" stroke-width="1.0"/>
<text x="166.20" y="310.70" font-size="6.7" font-weight="bold" fill="#222" stroke="#222" stroke-width="0.2" text-anchor="end">100000</text>
<line x1="168.00" y1="330.50" x2="169.60" y2="330.50" stroke="#111" stroke-width="0.8"/>
<line x1="168.00" y1="325.50" x2="169.60" y2="325.50" stroke="#111" stroke-width="0.8"/>
<line x1="168.00" y1="321.50" x2="169.60" y2="321.50" stroke="#111" stroke-width="0.8"/>
<line x1="168.00" y1="318.50" x2="169.60" y2="318.50" stroke="#111" stroke-width="0.8"/>
<line x1="168.00" y1="315.50" x2="169.60" y2="315.50" stroke="#111" stroke-width="0.8"/>
<line x1="168.00" y1="313.50" x2="169.60" y2="313.50" stroke="#111" stroke-width="0.8"/>
<line x1="168.00" y1="311.50" x2="169.60" y2="311.50" stroke="#111" stroke-width="0.8"/>
<line x1="168.00" y1="309.50" x2="169.60" y2="309.50" stroke="#111" stroke-width="0.8"/>
<line x1="166.40" y1="340.50" x2="169.60" y2="340.50" stroke="#111" stroke-width="1.0"/>
<text x="166.20" y="343.03" font-size="6.7" font-weight="bold" fill="#222" stroke="#222" stroke-width="0.2" text-anchor="end">10000</text>
<line x1="168.00" y1="363.50" x2="169.60" y2="363.50" stroke="#111" stroke-width="0.8"/>
<line x1="168.00" y1="357.50" x2="169.60" y2="357.50" stroke="#111" stroke-width="0.8"/>
<line x1="168.00" y1="353.50" x2="169.60" y2="353.50" stroke="#111" stroke-width="0.8"/>
<line x1="168.00" y1="350.50" x2="169.60" y2="350.50" stroke="#111" stroke-width="0.8"/>
<line x1="168.00" y1="347.50" x2="169.60" y2="347.50" stroke="#111" stroke-width="0.8"/>
<line x1="168.00" y1="345.50" x2="169.60" y2="345.50" stroke="#111" stroke-width="0.8"/>
<line x1="168.00" y1="343.50" x2="169.60" y2="343.50" stroke="#111" stroke-width="0.8"/>
<line x1="168.00" y1="342.50" x2="169.60" y2="342.50" stroke="#111" stroke-width="0.8"/>
<line x1="166.40" y1="373.50" x2="169.60" y2="373.50" stroke="#111" stroke-width="1.0"/>
<text x="166.20" y="375.36" font-size="6.7" font-weight="bold" fill="#222" stroke="#222" stroke-width="0.2" text-anchor="end">1000</text>
<line x1="168.00" y1="395.50" x2="169.60" y2="395.50" stroke="#111" stroke-width="0.8"/>
<line x1="168.00" y1="389.50" x2="169.60" y2="389.50" stroke="#111" stroke-width="0.8"/>
<line x1="168.00" y1="385.50" x2="169.60" y2="385.50" stroke="#111" stroke-width="0.8"/>
<line x1="168.00" y1="382.50" x2="169.60" y2="382.50" stroke="#111" stroke-width="0.8"/>
<line x1="168.00" y1="380.50" x2="169.60" y2="380.50" stroke="#111" stroke-width="0.8"/>
<line x1="168.00" y1="378.50" x2="169.60" y2="378.50" stroke="#111" stroke-width="0.8"/>
<line x1="168.00" y1="376.50" x2="169.60" y2="376.50" stroke="#111" stroke-width="0.8"/>
<line x1="168.00" y1="374.50" x2="169.60" y2="374.50" stroke="#111" stroke-width="0.8"/>
<line x1="166.40" y1="405.50" x2="169.60" y2="405.50" stroke="#111" stroke-width="1.0"/>
<text x="166.20" y="407.69" font-size="6.7" font-weight="bold" fill="#222" stroke="#222" stroke-width="0.2" text-anchor="end">100</text>
<text x="142.00" y="394.60" font-size="7.9" font-weight="bold" fill="#111" stroke="#111" stroke-width="0.2" text-anchor="start" transform="rotate(-90 142.00 394.60)" textLength="76.2" lengthAdjust="spacingAndGlyphs">KIR3DL1 transcripts</text>
<text x="190.00" y="414.40" font-size="6.6" font-weight="bold" fill="#111" stroke="#111" stroke-width="0.2" text-anchor="middle">HIV</text>
<line x1="190.50" y1="405.40" x2="190.50" y2="407.50" stroke="#111" stroke-width="0.8"/>
<text x="231.50" y="414.40" font-size="6.6" font-weight="bold" fill="#111" stroke="#111" stroke-width="0.2" text-anchor="middle">EU</text>
<line x1="231.50" y1="405.40" x2="231.50" y2="407.50" stroke="#111" stroke-width="0.8"/>
<text x="273.00" y="414.40" font-size="6.6" font-weight="bold" fill="#111" stroke="#111" stroke-width="0.2" text-anchor="middle">C</text>
<line x1="273.50" y1="405.40" x2="273.50" y2="407.50" stroke="#111" stroke-width="0.8"/>
<rect x="189.20" y="323.70" width="1.60" height="1.60" fill="#b8b8b8"/>
<rect x="191.70" y="331.20" width="1.60" height="1.60" fill="#b8b8b8"/>
<rect x="186.70" y="342.20" width="1.60" height="1.60" fill="#b8b8b8"/>
<rect x="189.20" y="378.70" width="1.60" height="1.60" fill="#b8b8b8"/>
<line x1="176.20" y1="337.50" x2="203.80" y2="337.50" stroke="#555" stroke-width="1.1475"/>
<line x1="183.10" y1="327.50" x2="196.90" y2="327.50" stroke="#555" stroke-width="1.1475"/>
<line x1="183.10" y1="351.50" x2="196.90" y2="351.50" stroke="#555" stroke-width="1.1475"/>
<line x1="190.50" y1="327.50" x2="190.50" y2="351.75" stroke="#6a6a6a" stroke-width="0.860625"/>
<line x1="176.20" y1="337.50" x2="203.80" y2="337.50" stroke="#333" stroke-width="1.2"/>
<rect x="230.65" y="316.65" width="1.70" height="1.70" fill="#111"/>
<rect x="230.65" y="323.05" width="1.70" height="1.70" fill="#111"/>
<rect x="230.65" y="326.65" width="1.70" height="1.70" fill="#111"/>
<rect x="230.65" y="330.15" width="1.70" height="1.70" fill="#111"/>
<rect x="230.65" y="335.15" width="1.70" height="1.70" fill="#111"/>
<rect x="230.65" y="340.15" width="1.70" height="1.70" fill="#111"/>
<rect x="230.65" y="344.65" width="1.70" height="1.70" fill="#111"/>
<rect x="230.65" y="347.15" width="1.70" height="1.70" fill="#111"/>
<rect x="230.65" y="352.15" width="1.70" height="1.70" fill="#111"/>
<rect x="230.65" y="355.15" width="1.70" height="1.70" fill="#111"/>
<rect x="230.65" y="357.65" width="1.70" height="1.70" fill="#111"/>
<rect x="230.65" y="359.45" width="1.70" height="1.70" fill="#111"/>
<line x1="217.40" y1="350.50" x2="245.60" y2="350.50" stroke="#111" stroke-width="1.35"/>
<line x1="224.60" y1="333.50" x2="238.40" y2="333.50" stroke="#111" stroke-width="1.35"/>
<line x1="224.60" y1="358.50" x2="238.40" y2="358.50" stroke="#111" stroke-width="1.35"/>
<line x1="231.50" y1="333.75" x2="231.50" y2="358.00" stroke="#111" stroke-width="1.0125000000000002"/>
<rect x="271.85" y="323.85" width="2.30" height="2.30" fill="#333"/>
<rect x="271.85" y="325.85" width="2.30" height="2.30" fill="#333"/>
<rect x="271.85" y="327.85" width="2.30" height="2.30" fill="#333"/>
<rect x="271.85" y="329.85" width="2.30" height="2.30" fill="#333"/>
<rect x="271.85" y="331.85" width="2.30" height="2.30" fill="#333"/>
<rect x="271.85" y="333.85" width="2.30" height="2.30" fill="#333"/>
<rect x="271.85" y="335.85" width="2.30" height="2.30" fill="#333"/>
<rect x="271.85" y="337.85" width="2.30" height="2.30" fill="#333"/>
<rect x="271.85" y="339.85" width="2.30" height="2.30" fill="#333"/>
<rect x="271.85" y="341.85" width="2.30" height="2.30" fill="#333"/>
<rect x="271.85" y="343.85" width="2.30" height="2.30" fill="#333"/>
<rect x="271.85" y="345.85" width="2.30" height="2.30" fill="#333"/>
<rect x="271.85" y="347.85" width="2.30" height="2.30" fill="#333"/>
<rect x="271.85" y="350.85" width="2.30" height="2.30" fill="#333"/>
<rect x="271.85" y="353.85" width="2.30" height="2.30" fill="#333"/>
<rect x="271.85" y="358.55" width="2.30" height="2.30" fill="#333"/>
<rect x="271.85" y="360.85" width="2.30" height="2.30" fill="#333"/>
<rect x="271.85" y="363.35" width="2.30" height="2.30" fill="#333"/>
<rect x="271.85" y="365.85" width="2.30" height="2.30" fill="#333"/>
<rect x="271.85" y="368.35" width="2.30" height="2.30" fill="#333"/>
<line x1="258.90" y1="340.50" x2="287.10" y2="340.50" stroke="#111" stroke-width="1.35"/>
<line x1="266.10" y1="330.50" x2="279.90" y2="330.50" stroke="#111" stroke-width="1.35"/>
<line x1="266.10" y1="357.50" x2="279.90" y2="357.50" stroke="#111" stroke-width="1.35"/>
<line x1="273.50" y1="330.50" x2="273.50" y2="357.00" stroke="#111" stroke-width="1.0125000000000002"/>
<line x1="376.50" y1="292.50" x2="376.50" y2="407.80" stroke="#111" stroke-width="1.5"/>
<line x1="375.60" y1="407.50" x2="500.00" y2="407.50" stroke="#111" stroke-width="1.5"/>
<line x1="373.10" y1="407.50" x2="376.30" y2="407.50" stroke="#111" stroke-width="1.0"/>
<text x="373.20" y="409.50" font-size="6.7" font-weight="bold" fill="#222" stroke="#222" stroke-width="0.2" text-anchor="end">0</text>
<line x1="373.10" y1="388.50" x2="376.30" y2="388.50" stroke="#111" stroke-width="1.0"/>
<text x="373.20" y="390.62" font-size="6.7" font-weight="bold" fill="#222" stroke="#222" stroke-width="0.2" text-anchor="end">10</text>
<line x1="373.10" y1="369.50" x2="376.30" y2="369.50" stroke="#111" stroke-width="1.0"/>
<text x="373.20" y="371.73" font-size="6.7" font-weight="bold" fill="#222" stroke="#222" stroke-width="0.2" text-anchor="end">20</text>
<line x1="373.10" y1="350.50" x2="376.30" y2="350.50" stroke="#111" stroke-width="1.0"/>
<text x="373.20" y="352.85" font-size="6.7" font-weight="bold" fill="#222" stroke="#222" stroke-width="0.2" text-anchor="end">30</text>
<line x1="373.10" y1="331.50" x2="376.30" y2="331.50" stroke="#111" stroke-width="1.0"/>
<text x="373.20" y="333.97" font-size="6.7" font-weight="bold" fill="#222" stroke="#222" stroke-width="0.2" text-anchor="end">40</text>
<line x1="373.10" y1="312.50" x2="376.30" y2="312.50" stroke="#111" stroke-width="1.0"/>
<text x="373.20" y="315.08" font-size="6.7" font-weight="bold" fill="#222" stroke="#222" stroke-width="0.2" text-anchor="end">50</text>
<line x1="373.10" y1="293.50" x2="376.30" y2="293.50" stroke="#111" stroke-width="1.0"/>
<text x="373.20" y="296.20" font-size="6.7" font-weight="bold" fill="#222" stroke="#222" stroke-width="0.2" text-anchor="end">60</text>
<text x="358.20" y="402.00" font-size="7.8" font-weight="bold" fill="#111" stroke="#111" stroke-width="0.2" text-anchor="start" transform="rotate(-90 358.20 402.00)" textLength="103.3" lengthAdjust="spacingAndGlyphs">KIR3DS1/L1 transcript ratio</text>
<text x="397.30" y="415.80" font-size="6.8" font-weight="bold" fill="#111" stroke="#111" stroke-width="0.2" text-anchor="middle">HIV</text>
<text x="438.20" y="415.80" font-size="6.8" font-weight="bold" fill="#111" stroke="#111" stroke-width="0.2" text-anchor="middle">EU</text>
<text x="479.30" y="415.80" font-size="6.8" font-weight="bold" fill="#111" stroke="#111" stroke-width="0.2" text-anchor="middle">C</text>
<line x1="383.70" y1="403.50" x2="411.20" y2="403.50" stroke="#777" stroke-width="1.2"/>
<rect x="430.9" y="291.4" width="16" height="77.4" rx="2.5" fill="none" stroke="#444" stroke-width="0.9"/>
<rect x="437.20" y="295.50" width="1.60" height="1.60" fill="#111"/>
<line x1="432.00" y1="354.50" x2="445.20" y2="354.50" stroke="#111" stroke-width="1.0"/>
<rect x="435.40" y="353.30" width="1.60" height="1.60" fill="#111"/>
<rect x="437.60" y="353.30" width="1.60" height="1.60" fill="#111"/>
<line x1="438.50" y1="354.10" x2="438.50" y2="404.60" stroke="#333" stroke-width="0.8"/>
<rect x="437.30" y="390.90" width="1.60" height="1.60" fill="#111"/>
<line x1="424.60" y1="399.50" x2="452.40" y2="399.50" stroke="#111" stroke-width="1.0"/>
<line x1="432.70" y1="404.50" x2="443.50" y2="404.50" stroke="#111" stroke-width="1.0"/>
<rect x="439.20" y="403.20" width="1.60" height="1.60" fill="#111"/>
<line x1="479.50" y1="388.50" x2="479.50" y2="404.60" stroke="#111" stroke-width="0.8"/>
<line x1="473.10" y1="388.50" x2="486.00" y2="388.50" stroke="#111" stroke-width="1.0"/>
<line x1="465.00" y1="401.50" x2="493.30" y2="401.50" stroke="#111" stroke-width="1.0"/>
<circle cx="479.20" cy="375.50" r="1.20" fill="none" stroke="#555" stroke-width="1.0"/>
<circle cx="479.20" cy="388.40" r="1.10" fill="#333"/>
<circle cx="479.20" cy="397.80" r="1.10" fill="#333"/>
<circle cx="476.00" cy="403.00" r="0.90" fill="none" stroke="#666" stroke-width="1.0"/>
<circle cx="479.00" cy="404.00" r="0.90" fill="none" stroke="#666" stroke-width="1.0"/>
<circle cx="482.00" cy="403.30" r="0.90" fill="none" stroke="#666" stroke-width="1.0"/>
<circle cx="477.50" cy="405.20" r="0.90" fill="none" stroke="#666" stroke-width="1.0"/>
<circle cx="480.50" cy="405.00" r="0.90" fill="none" stroke="#666" stroke-width="1.0"/>
<circle cx="434.20" cy="402.70" r="0.85" fill="#111"/>
<circle cx="437.80" cy="401.60" r="0.85" fill="#111"/>
<circle cx="437.80" cy="405.50" r="0.85" fill="#111"/>
</svg>
</body></html>
